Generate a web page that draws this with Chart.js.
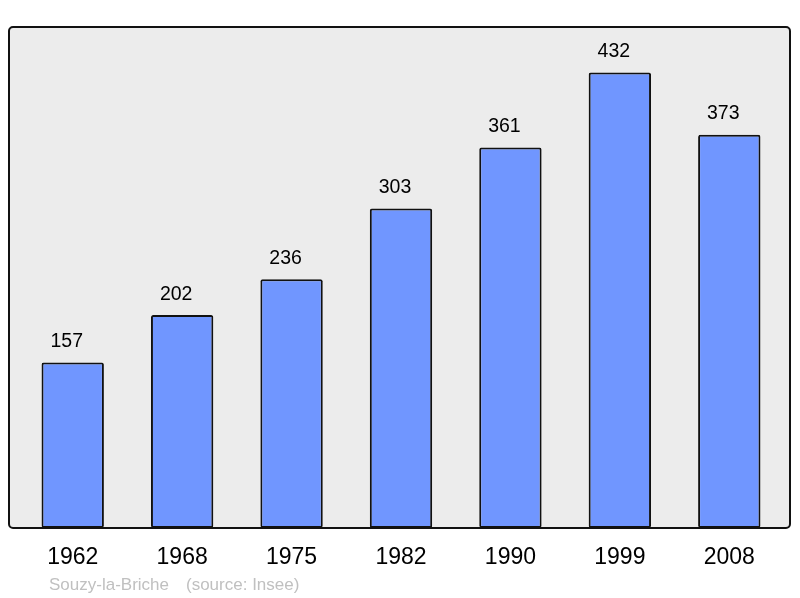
<!DOCTYPE html>
<html><head><meta charset="utf-8">
<script src="https://cdn.jsdelivr.net/npm/chart.js@4/dist/chart.umd.min.js"></script>
<style>html,body{margin:0;padding:0;background:#fff}#wrap{width:800px;height:598px}</style>
</head><body><div id="wrap"><canvas id="c" width="800" height="598"></canvas></div>
<script>
const years = ["1962","1968","1975","1982","1990","1999","2008"];
const population = [157,202,236,303,361,432,373];
const commune = "Souzy-la-Briche";
const source = "(source: Insee)";

const FONT = "'Liberation Sans', Arial, sans-serif";

const boxPlugin = {
  id: 'box',
  beforeDraw(chart) {
    const ctx = chart.ctx;
    ctx.save();
    ctx.fillStyle = '#ececec';
    ctx.beginPath();
    ctx.roundRect(9, 27, 781, 501, 4);
    ctx.fill();
    ctx.restore();
  },
  afterDatasetsDraw(chart) {
    const ctx = chart.ctx;
    const meta = chart.getDatasetMeta(0);
    ctx.save();
    ctx.fillStyle = '#000';
    ctx.font = '19.5px ' + FONT;
    ctx.textAlign = 'center';
    ctx.textBaseline = 'alphabetic';
    meta.data.forEach((el, i) => {
      ctx.fillText(String(population[i]), el.x - 6, el.y - 15.5);
    });
    ctx.strokeStyle = '#111';
    ctx.lineWidth = 2;
    ctx.beginPath();
    ctx.roundRect(9, 27, 781, 501, 4);
    ctx.stroke();
    ctx.fillStyle = '#c0c0c0';
    ctx.font = '17px ' + FONT;
    ctx.textAlign = 'left';
    ctx.fillText(commune, 49, 590);
    ctx.fillText(source, 186, 590);
    ctx.restore();
  }
};

new Chart(document.getElementById('c'), {
  type: 'bar',
  data: {
    labels: years,
    datasets: [{
      data: population,
      backgroundColor: '#7096ff',
      borderColor: '#111',
      borderWidth: 2,
      borderRadius: 2,
      borderSkipped: false,
      barPercentage: 0.57,
      categoryPercentage: 1
    }]
  },
  options: {
    responsive: false,
    animation: false,
    layout: { padding: { left: 18, right: 16, top: 27, bottom: 0 } },
    plugins: { legend: { display: false }, tooltip: { enabled: false } },
    scales: {
      y: { display: false, min: 0, max: 475.2 },
      x: {
        grid: { display: false, drawTicks: false },
        border: { display: false },
        ticks: { color: '#000', font: { family: FONT, size: 23 }, padding: 16, maxRotation: 0 },
        afterFit(scale) { scale.height = 70; }
      }
    }
  },
  plugins: [boxPlugin]
});
</script></body></html>
